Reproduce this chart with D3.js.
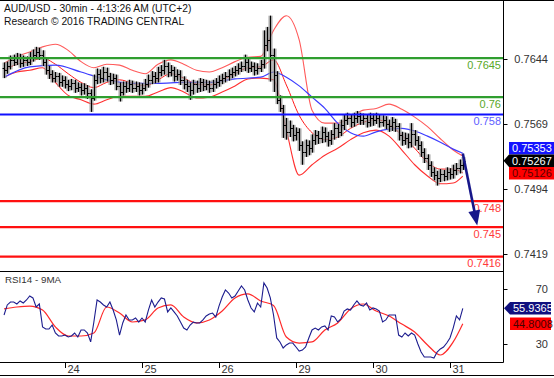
<!DOCTYPE html>
<html>
<head>
<meta charset="utf-8">
<script src="https://cdn.jsdelivr.net/npm/d3@7"></script>
<style>
body { margin: 0; background: #fff; }
svg { display: block; font-family: "Liberation Sans", Arial, sans-serif; }
</style>
</head>
<body>
<svg id="chart" width="554" height="378"></svg>
<script>
// day labels on the time axis and the bar index where each day starts
const dayLabels = ['24', '25', '26', '29', '30', '31']
const dayStarts = [19, 43, 67, 91, 115, 139]

// price bars (open = previous close)
const firstOpen = 0.7634
const highs = [
  0.7640, 0.7641, 0.7648, 0.7649, 0.7651, 0.7650, 0.7648, 0.7647, 0.7652, 0.7655,
  0.7658, 0.7657, 0.7654, 0.7645, 0.7636, 0.7631, 0.7629, 0.7628, 0.7625, 0.7624,
  0.7620, 0.7621, 0.7620, 0.7617, 0.7616, 0.7616, 0.7614, 0.7609, 0.7626, 0.7633,
  0.7632, 0.7635, 0.7634, 0.7628, 0.7627, 0.7626, 0.7617, 0.7618, 0.7618, 0.7620,
  0.7619, 0.7618, 0.7617, 0.7616, 0.7621, 0.7626, 0.7630, 0.7629, 0.7635, 0.7637,
  0.7643, 0.7640, 0.7637, 0.7635, 0.7632, 0.7631, 0.7624, 0.7620, 0.7617, 0.7620,
  0.7619, 0.7622, 0.7621, 0.7620, 0.7619, 0.7620, 0.7622, 0.7625, 0.7627, 0.7629,
  0.7632, 0.7634, 0.7636, 0.7639, 0.7641, 0.7649, 0.7645, 0.7641, 0.7640, 0.7639,
  0.7643, 0.7677, 0.7681, 0.7694, 0.7656, 0.7630, 0.7602, 0.7591, 0.7576, 0.7573,
  0.7568, 0.7565, 0.7564, 0.7549, 0.7551, 0.7550, 0.7557, 0.7562, 0.7561, 0.7566,
  0.7565, 0.7560, 0.7562, 0.7570, 0.7569, 0.7574, 0.7580, 0.7582, 0.7580, 0.7582,
  0.7584, 0.7582, 0.7581, 0.7580, 0.7582, 0.7581, 0.7582, 0.7580, 0.7579, 0.7578,
  0.7574, 0.7577, 0.7575, 0.7570, 0.7560, 0.7559, 0.7558, 0.7570, 0.7562, 0.7555,
  0.7549, 0.7541, 0.7534, 0.7526, 0.7519, 0.7515, 0.7517, 0.7516, 0.7519, 0.7518,
  0.7522, 0.7524, 0.7528, 0.7531
]
const lows = [
  0.7622, 0.7627, 0.7632, 0.7636, 0.7637, 0.7634, 0.7635, 0.7636, 0.7637, 0.7641,
  0.7644, 0.7643, 0.7636, 0.7626, 0.7621, 0.7617, 0.7617, 0.7612, 0.7612, 0.7610,
  0.7607, 0.7608, 0.7605, 0.7606, 0.7602, 0.7603, 0.7598, 0.7583, 0.7596, 0.7615,
  0.7616, 0.7617, 0.7618, 0.7614, 0.7615, 0.7608, 0.7595, 0.7602, 0.7605, 0.7606,
  0.7605, 0.7606, 0.7602, 0.7603, 0.7607, 0.7611, 0.7615, 0.7616, 0.7617, 0.7624,
  0.7626, 0.7623, 0.7624, 0.7618, 0.7619, 0.7614, 0.7609, 0.7606, 0.7597, 0.7603,
  0.7605, 0.7606, 0.7607, 0.7608, 0.7605, 0.7606, 0.7610, 0.7612, 0.7615, 0.7617,
  0.7619, 0.7622, 0.7624, 0.7626, 0.7629, 0.7630, 0.7628, 0.7629, 0.7625, 0.7626,
  0.7629, 0.7633, 0.7653, 0.7618, 0.7606, 0.7592, 0.7583, 0.7553, 0.7551, 0.7554,
  0.7549, 0.7550, 0.7538, 0.7522, 0.7531, 0.7533, 0.7536, 0.7545, 0.7546, 0.7547,
  0.7548, 0.7543, 0.7545, 0.7551, 0.7553, 0.7555, 0.7562, 0.7568, 0.7565, 0.7566,
  0.7570, 0.7568, 0.7568, 0.7565, 0.7566, 0.7567, 0.7569, 0.7565, 0.7566, 0.7563,
  0.7560, 0.7561, 0.7560, 0.7550, 0.7544, 0.7545, 0.7541, 0.7542, 0.7544, 0.7539,
  0.7531, 0.7524, 0.7516, 0.7508, 0.7504, 0.7498, 0.7502, 0.7503, 0.7504, 0.7505,
  0.7506, 0.7510, 0.7512, 0.7516
]
const closes = [
  0.7631, 0.7636, 0.7643, 0.7641, 0.7645, 0.7639, 0.7643, 0.7641, 0.7646, 0.7649,
  0.7652, 0.7649, 0.7641, 0.7631, 0.7627, 0.7622, 0.7624, 0.7617, 0.7620, 0.7615,
  0.7613, 0.7616, 0.7611, 0.7612, 0.7608, 0.7611, 0.7605, 0.7599, 0.7620, 0.7627,
  0.7622, 0.7629, 0.7624, 0.7620, 0.7622, 0.7613, 0.7606, 0.7613, 0.7611, 0.7615,
  0.7611, 0.7613, 0.7608, 0.7611, 0.7615, 0.7620, 0.7624, 0.7622, 0.7629, 0.7631,
  0.7636, 0.7629, 0.7631, 0.7624, 0.7627, 0.7620, 0.7615, 0.7613, 0.7608, 0.7615,
  0.7611, 0.7617, 0.7613, 0.7615, 0.7611, 0.7615, 0.7617, 0.7620, 0.7622, 0.7624,
  0.7627, 0.7629, 0.7631, 0.7634, 0.7636, 0.7641, 0.7634, 0.7636, 0.7631, 0.7634,
  0.7638, 0.7660, 0.7666, 0.7649, 0.7626, 0.7597, 0.7588, 0.7568, 0.7560, 0.7564,
  0.7556, 0.7560, 0.7545, 0.7537, 0.7545, 0.7541, 0.7551, 0.7556, 0.7553, 0.7560,
  0.7555, 0.7551, 0.7557, 0.7564, 0.7560, 0.7568, 0.7574, 0.7576, 0.7571, 0.7576,
  0.7578, 0.7574, 0.7576, 0.7571, 0.7576, 0.7574, 0.7576, 0.7571, 0.7574, 0.7569,
  0.7567, 0.7571, 0.7567, 0.7556, 0.7551, 0.7553, 0.7548, 0.7557, 0.7551, 0.7545,
  0.7537, 0.7530, 0.7522, 0.7514, 0.7510, 0.7507, 0.7511, 0.7509, 0.7514, 0.7511,
  0.7516, 0.7518, 0.7522, 0.75267
]

// bollinger bands, read every 4th bar
const bandIdx = [0, 4, 8, 12, 16, 20, 24, 28, 32, 36, 40, 44, 48, 52, 56, 60, 64, 68, 72,
  76, 80, 84, 88, 92, 96, 100, 104, 108, 112, 116, 120, 124, 128, 132, 136, 140, 143]
const bandUpper = [0.7639, 0.7647, 0.7652, 0.7658, 0.7661, 0.7654, 0.7641, 0.7634, 0.7638,
  0.7637, 0.7631, 0.7627, 0.7638, 0.7643, 0.7638, 0.7631, 0.7629, 0.7634, 0.7641, 0.7646,
  0.7647, 0.7677, 0.7694, 0.7666, 0.7585, 0.7570, 0.7570, 0.7577, 0.7585, 0.7587, 0.7592,
  0.7586, 0.7577, 0.7566, 0.7552, 0.7539, 0.7532]
const bandMiddle = [0.7631, 0.7638, 0.7641, 0.7645, 0.7638, 0.7627, 0.7617, 0.7611, 0.7617,
  0.7620, 0.7616, 0.7613, 0.7620, 0.7627, 0.7622, 0.7615, 0.7614, 0.7620, 0.7627, 0.7634,
  0.7635, 0.7643, 0.7614, 0.7579, 0.7559, 0.7551, 0.7554, 0.7564, 0.7571, 0.7574, 0.7569,
  0.7556, 0.7541, 0.7525, 0.7517, 0.7517, 0.75126]
const bandLower = [0.7623, 0.7629, 0.7631, 0.7634, 0.7617, 0.7602, 0.7597, 0.7592, 0.7597,
  0.7601, 0.7601, 0.7601, 0.7606, 0.7611, 0.7606, 0.7599, 0.7600, 0.7606, 0.7613, 0.7621,
  0.7622, 0.7620, 0.7562, 0.7510, 0.7522, 0.7533, 0.7541, 0.7551, 0.7559, 0.7562, 0.7555,
  0.7539, 0.7522, 0.7509, 0.7500, 0.7501, 0.7509]

// blue moving average
const maIdx = [0, 8, 16, 24, 32, 40, 48, 56, 64, 72, 80, 84, 88, 92, 96, 100, 104, 108,
  112, 116, 120, 124, 128, 132, 136, 140, 143]
const maValues = [0.7623, 0.7635, 0.7637, 0.7629, 0.7620, 0.7616, 0.7616, 0.7617, 0.7617,
  0.7621, 0.7623, 0.7629, 0.7623, 0.7613, 0.7600, 0.7587, 0.7570, 0.7559, 0.7555, 0.7560,
  0.7563, 0.7564, 0.7561, 0.7555, 0.7548, 0.7540, 0.75353]

// RSI14 per bar and its 9MA (read every 4th bar)
const rsi = [
  51.1, 58.4, 60.5, 60.5, 59.1, 61.3, 59.8, 62.0, 64.9, 63.5,
  56.9, 59.1, 42.4, 40.9, 40.9, 43.8, 38.0, 35.8, 35.8, 36.5,
  35.1, 35.8, 38.0, 35.1, 40.2, 40.2, 38.0, 31.5, 46.0, 62.0,
  60.5, 58.4, 56.9, 60.5, 54.7, 47.5, 36.5, 45.3, 51.1, 47.5,
  47.5, 48.9, 46.0, 48.9, 46.0, 54.7, 62.0, 56.9, 60.5, 63.5,
  62.7, 53.3, 56.2, 53.3, 50.4, 46.0, 41.6, 40.2, 43.8, 46.0,
  45.3, 45.3, 47.5, 50.4, 51.8, 52.5, 49.6, 57.6, 64.2, 69.3,
  67.1, 63.5, 64.9, 68.5, 72.2, 69.3, 62.0, 56.2, 53.3, 59.8,
  56.9, 74.4, 70.7, 63.5, 51.1, 34.4, 31.5, 27.1, 29.3, 30.7,
  30.7, 27.8, 24.9, 25.6, 27.8, 34.4, 40.2, 41.6, 40.2, 42.4,
  43.1, 40.2, 50.4, 49.6, 46.0, 48.2, 54.0, 55.5, 54.7, 58.4,
  61.3, 58.4, 57.6, 59.8, 54.7, 56.2, 55.5, 54.0, 46.0, 47.5,
  51.1, 51.1, 51.1, 36.5, 35.1, 38.0, 35.8, 38.0, 36.5, 30.0,
  24.2, 20.5, 20.5, 20.5, 19.8, 24.2, 26.4, 27.8, 30.7, 34.4,
  41.6, 50.4, 47.5, 55.9365
]
const rsiMa = [55.5, 56.9, 57.6, 54.7, 42.4, 35.8, 35.8, 38.0, 56.9, 52.5, 46.0, 47.5,
  56.2, 58.4, 49.6, 45.3, 47.5, 54.0, 63.5, 66.4, 61.3, 58.0, 35.1, 30.7, 31.5, 40.2,
  45.3, 55.5, 59.1, 54.0, 50.4, 44.5, 38.7, 29.3, 22.0, 31.5, 44.8008]

// support / resistance levels
const levels = [0.7645, 0.76, 0.758, 0.748, 0.745, 0.7416]
const levelLabels = ['0.7645', '0.76', '0.758', '0.748', '0.745', '0.7416']
const levelKinds = ['res', 'res', 'pivot', 'sup', 'sup', 'sup']

const priceTicks = [0.7644, 0.7569, 0.7494, 0.7419]
const rsiTicks = [70, 30]

// forecast arrow: [bar index, price]
const arrowPath = [[143, 0.7535], [147.5, 0.7452]]

const lastMa = 0.75353
const lastClose = 0.75267
const lastMiddle = 0.75126
const lastRsi = 55.9365
const lastRsiMa = 44.8008

const svg = d3.select('#chart')
const axisX = 503.5

const x = d3.scaleLinear().domain([0, 143]).range([4.05, 462.8])
const yP = d3.scaleLinear().domain([0.73994, 0.77121]).range([271, 0])
const yR = d3.scaleLinear().domain([16.91, 82.36]).range([362, 272])

const defs = svg.append('defs')
defs.append('clipPath').attr('id', 'clipMain').append('rect')
  .attr('x', 0).attr('y', 0).attr('width', axisX).attr('height', 271)
defs.append('clipPath').attr('id', 'clipRsi').append('rect')
  .attr('x', 0).attr('y', 272).attr('width', axisX).attr('height', 90)

const main = svg.append('g').attr('clip-path', 'url(#clipMain)')

// bands + MA
const sparse = (idx, vals) => idx.map((d, k) => [d, vals[k]])
const lineP = d3.line().x(d => x(d[0])).y(d => yP(d[1])).curve(d3.curveMonotoneX)

main.append('path').datum(sparse(bandIdx, bandUpper)).attr('d', lineP)
  .attr('fill', 'none').attr('stroke', '#ff5a5a').attr('stroke-width', 1.1)
main.append('path').datum(sparse(bandIdx, bandLower)).attr('d', lineP)
  .attr('fill', 'none').attr('stroke', '#ff3030').attr('stroke-width', 1.1)
main.append('path').datum(sparse(bandIdx, bandMiddle)).attr('d', lineP)
  .attr('fill', 'none').attr('stroke', '#ff1a1a').attr('stroke-width', 1)
main.append('path').datum(sparse(maIdx, maValues)).attr('d', lineP)
  .attr('fill', 'none').attr('stroke', '#3c3cff').attr('stroke-width', 1.2)

// bars
const bars = closes.map((c, i) => ({
  i: i, o: i === 0 ? firstOpen : closes[i - 1], h: highs[i], l: lows[i], c: c
}))
const barG = main.append('g')
barG.selectAll('rect.shade').data(bars).join('rect')
  .attr('x', d => Math.round(x(d.i)) - 1.5)
  .attr('y', d => yP(d.h))
  .attr('width', 4)
  .attr('height', d => Math.max(1, yP(d.l) - yP(d.h)))
  .attr('fill', '#8c8c8c').attr('opacity', 0.75)
barG.selectAll('line.hl').data(bars).join('line')
  .attr('x1', d => Math.round(x(d.i)) + 0.5).attr('x2', d => Math.round(x(d.i)) + 0.5)
  .attr('y1', d => yP(d.h)).attr('y2', d => yP(d.l))
  .attr('stroke', '#000').attr('stroke-width', 1)
barG.selectAll('line.op').data(bars).join('line')
  .attr('x1', d => Math.round(x(d.i)) - 1.5).attr('x2', d => Math.round(x(d.i)) + 0.5)
  .attr('y1', d => Math.round(yP(d.o)) + 0.5).attr('y2', d => Math.round(yP(d.o)) + 0.5)
  .attr('stroke', '#000')
barG.selectAll('line.cl').data(bars).join('line')
  .attr('x1', d => Math.round(x(d.i)) + 0.5).attr('x2', d => Math.round(x(d.i)) + 2.5)
  .attr('y1', d => Math.round(yP(d.c)) + 0.5).attr('y2', d => Math.round(yP(d.c)) + 0.5)
  .attr('stroke', '#000')

// levels
const levelColor = { res: '#2f9e2f', pivot: '#1010ff', sup: '#ff1010' }
const labelColor = { res: '#5aa82a', pivot: '#6060ff', sup: '#ff3a3a' }
levels.forEach((v, k) => {
  const yy = yP(v)
  svg.append('line').attr('x1', 0).attr('x2', axisX).attr('y1', yy).attr('y2', yy)
    .attr('stroke', levelColor[levelKinds[k]]).attr('stroke-width', 2.2)
  svg.append('text').attr('x', 501).attr('y', yy + 10.5).attr('text-anchor', 'end')
    .attr('font-size', 11).attr('fill', labelColor[levelKinds[k]]).text(levelLabels[k])
})

// forecast arrow
const p0 = [x(arrowPath[0][0]), yP(arrowPath[0][1])]
const p1 = [x(arrowPath[1][0]), yP(arrowPath[1][1])]
const len = Math.hypot(p1[0] - p0[0], p1[1] - p0[1])
const ux = (p1[0] - p0[0]) / len, uy = (p1[1] - p0[1]) / len
const headL = 15, headW = 6
svg.append('line').attr('x1', p0[0]).attr('y1', p0[1])
  .attr('x2', p1[0] - ux * (headL - 2)).attr('y2', p1[1] - uy * (headL - 2))
  .attr('stroke', '#16168a').attr('stroke-width', 2.6)
const bx = p1[0] - ux * headL, by = p1[1] - uy * headL
svg.append('path')
  .attr('d', `M${p1[0]},${p1[1]}L${bx - uy * headW},${by + ux * headW}L${bx + uy * headW},${by - ux * headW}Z`)
  .attr('fill', '#16168a')

// RSI panel
const rsiG = svg.append('g').attr('clip-path', 'url(#clipRsi)')
rsiG.append('path').datum(sparse(bandIdx, rsiMa))
  .attr('d', d3.line().x(d => x(d[0])).y(d => yR(d[1])).curve(d3.curveMonotoneX))
  .attr('fill', 'none').attr('stroke', '#ff2a2a').attr('stroke-width', 1.2)
rsiG.append('path').datum(rsi)
  .attr('d', d3.line().x((d, i) => x(i)).y(d => yR(d)))
  .attr('fill', 'none').attr('stroke', '#1c1c8e').attr('stroke-width', 1.1)
svg.append('text').attr('x', 5).attr('y', 283).attr('font-size', 9.8).attr('fill', '#333')
  .text('RSI14 - 9MA')

// frame
const frame = svg.append('g').attr('stroke', '#000').attr('stroke-width', 1)
frame.append('line').attr('x1', 0).attr('x2', 554).attr('y1', 0.5).attr('y2', 0.5)
frame.append('line').attr('x1', 0).attr('x2', axisX).attr('y1', 271.5).attr('y2', 271.5)
frame.append('line').attr('x1', 0).attr('x2', axisX).attr('y1', 362.5).attr('y2', 362.5)
frame.append('line').attr('x1', 0).attr('x2', 554).attr('y1', 375.5).attr('y2', 375.5)
frame.append('line').attr('x1', axisX).attr('x2', axisX).attr('y1', 0).attr('y2', 362.5)

// right axes
const tickText = (yy, label) => {
  svg.append('line').attr('x1', axisX).attr('x2', axisX + 4).attr('y1', Math.round(yy) + 0.5)
    .attr('y2', Math.round(yy) + 0.5).attr('stroke', '#000')
  svg.append('text').attr('x', 548).attr('y', yy + 4).attr('text-anchor', 'end')
    .attr('font-size', 11).attr('fill', '#333').text(label)
}
priceTicks.forEach(v => tickText(yP(v), d3.format('.4f')(v)))
rsiTicks.forEach(v => tickText(yR(v), String(v)))

// time axis
dayStarts.forEach((d, k) => {
  const xx = Math.round(x(d)) + 0.5
  svg.append('line').attr('x1', xx).attr('x2', xx).attr('y1', 362).attr('y2', 368)
    .attr('stroke', '#000')
  svg.append('text').attr('x', xx + 2).attr('y', 373).attr('font-size', 11)
    .attr('fill', '#333').text(dayLabels[k])
})

// value tags on the right
function tag(cy, label, fill, color, x0, x1, pointer) {
  const h = 12.5
  const g = svg.append('g')
  let d = `M${x0},${cy - h / 2}H${x1}V${cy + h / 2}H${x0}`
  d += pointer ? `L${pointer},${cy}Z` : 'Z'
  g.append('path').attr('d', d).attr('fill', fill)
  g.append('text').attr('x', x0 + 3).attr('y', cy + 4).attr('font-size', 11)
    .attr('fill', color).text(label)
}
const cClose = yP(lastClose)
tag(cClose - 12.5, d3.format('.5f')(lastMa), '#1414ff', '#fff', 509, 554, null)
tag(cClose, d3.format('.5f')(lastClose), '#000', '#fff', 509, 554, axisX)
tag(cClose + 12.5, d3.format('.5f')(lastMiddle), '#ff0000', '#5a0000', 509, 554, null)
tag(yR(lastRsi), d3.format('.4f')(lastRsi), '#10107e', '#fff', 510, 551, 504)
tag(yR(lastRsiMa), d3.format('.4f')(lastRsiMa), '#ff0000', '#4a0000', 510, 551, null)

// title
svg.append('text').attr('x', 4).attr('y', 12).attr('font-size', 10.3).attr('fill', '#111')
  .text('AUD/USD - 30min - 4:13:26 AM (UTC+2)')
svg.append('text').attr('x', 4).attr('y', 25).attr('font-size', 10.3).attr('fill', '#111')
  .text('Research \u00a9 2016 TRADING CENTRAL')
</script>
</body>
</html>
